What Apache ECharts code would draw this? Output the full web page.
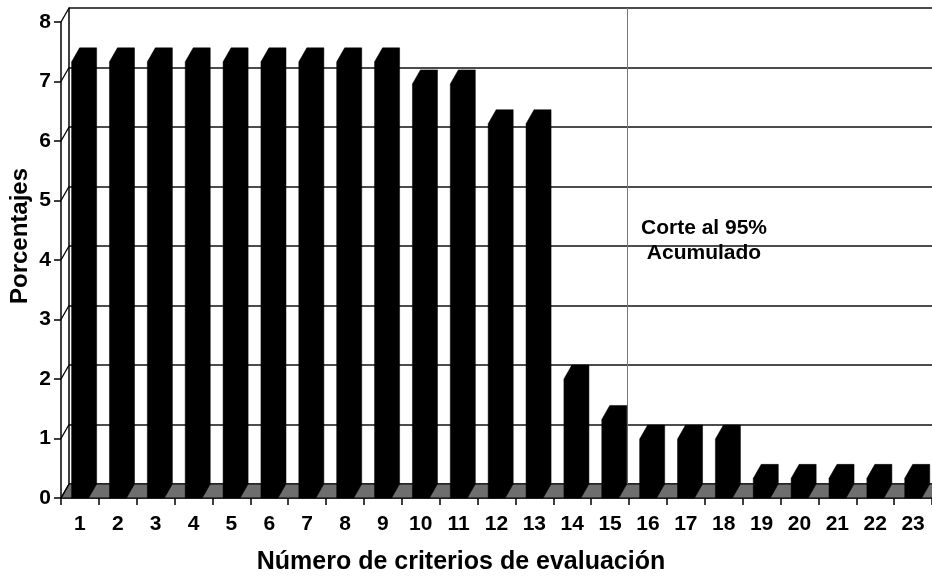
<!DOCTYPE html>
<html>
<head>
<meta charset="utf-8">
<script src="https://cdn.jsdelivr.net/npm/echarts@6/dist/echarts.min.js"></script>
<style>
html,body{margin:0;padding:0;background:#fff;}
#c{width:932px;height:587px;}
</style>
</head>
<body>
<div id="c"></div>
<script>
// ---- data ----
const categories = ['1','2','3','4','5','6','7','8','9','10','11','12','13','14','15','16','17','18','19','20','21','22','23'];
const percentages = [7.33,7.33,7.33,7.33,7.33,7.33,7.33,7.33,7.33,6.96,6.96,6.29,6.29,2.0,1.32,0.99,0.99,0.99,0.33,0.33,0.33,0.33,0.33];
const yTicks = [0,1,2,3,4,5,6,7,8];
const cutPosition = 14.87;           // where the 95% cumulative cut is drawn (category units on the back wall)
const cutLabel = 'Corte al 95%\nAcumulado';
const xTitle = 'Número de criterios de evaluación';
const yTitle = 'Porcentajes';

// ---- style ----
const FONT = "'Liberation Sans', Arial, Helvetica, sans-serif";
const DX = 8, DY = 14;   // pseudo-3D depth offset

const chart = echarts.init(document.getElementById('c'), null, {renderer: 'canvas'});

function bandLeft(api, idx) {
  const bw = api.size([1, 0])[0];
  return api.coord([idx, 0])[0] - bw / 2;
}

const option = {
  animation: false,
  backgroundColor: '#fff',
  grid: [
    {left: 69, top: 8, width: 876, height: 476},   // back wall
    {left: 61, top: 22, width: 876, height: 476}   // front plane
  ],
  xAxis: [
    {gridIndex: 0, type: 'value', min: 0, max: categories.length, show: false},
    {
      gridIndex: 1, type: 'category', data: categories, boundaryGap: true,
      axisLine: {show: true, lineStyle: {color: '#000', width: 1.5}},
      axisTick: {show: true, length: 7, lineStyle: {color: '#000', width: 1.5}},
      axisLabel: {color: '#000', fontFamily: FONT, fontWeight: 'bold', fontSize: 21, margin: 16},
      splitLine: {show: false}
    }
  ],
  yAxis: [
    {
      gridIndex: 0, type: 'value', min: 0, max: 8, interval: 1,
      axisLine: {show: true, lineStyle: {color: '#000', width: 1.5}},
      axisTick: {show: false}, axisLabel: {show: false},
      splitLine: {show: true, lineStyle: {color: '#111', width: 1.5}}
    },
    {
      gridIndex: 1, type: 'value', min: 0, max: 8, interval: 1,
      axisLine: {show: true, lineStyle: {color: '#000', width: 1.5}},
      axisTick: {show: true, length: 7, lineStyle: {color: '#000', width: 1.5}},
      axisLabel: {color: '#000', fontFamily: FONT, fontWeight: 'bold', fontSize: 21, margin: 10},
      splitLine: {show: false}
    }
  ],
  graphic: [
    {
      type: 'text', x: 461, y: 562, z: 10,
      style: {text: xTitle, fill: '#000', font: "bold 25px " + FONT, align: 'center', verticalAlign: 'middle'}
    },
    {
      type: 'text', x: 20, y: 236, rotation: Math.PI / 2, z: 10,
      style: {text: yTitle, fill: '#000', font: "bold 24px " + FONT, align: 'center', verticalAlign: 'middle'}
    },
    {
      type: 'text', x: 704, y: 241, z: 10,
      style: {text: cutLabel, fill: '#000', font: "bold 21px " + FONT, lineHeight: 25, align: 'center', verticalAlign: 'middle'}
    }
  ],
  series: [
    {
      // cut line on the back wall
      type: 'line', xAxisIndex: 0, yAxisIndex: 0, data: [], silent: true,
      markLine: {
        silent: true, symbol: 'none', animation: false,
        label: {show: false},
        lineStyle: {color: '#777', width: 1, type: 'solid'},
        data: [{xAxis: cutPosition}]
      }
    },
    {
      // floor
      type: 'custom', xAxisIndex: 1, yAxisIndex: 1, z: 3, silent: true,
      data: [[0, 0]],
      renderItem: function (params, api) {
        const l = bandLeft(api, 0);
        const r = bandLeft(api, categories.length - 1) + api.size([1, 0])[0];
        const y0 = api.coord([0, 0])[1];
        return {
          type: 'polygon',
          shape: {points: [[l, y0], [r, y0], [r + DX, y0 - DY], [l + DX, y0 - DY]]},
          style: {fill: '#6e6e6e', stroke: '#000', lineWidth: 1.2}
        };
      }
    },
    {
      // left-wall tick connectors
      type: 'custom', xAxisIndex: 1, yAxisIndex: 1, z: 3, silent: true,
      data: yTicks.map(v => [0, v]),
      encode: {x: 0, y: 1},
      renderItem: function (params, api) {
        const l = bandLeft(api, 0);
        const y = api.coord([0, api.value(1)])[1];
        return {
          type: 'line',
          shape: {x1: l, y1: y, x2: l + DX, y2: y - DY},
          style: {stroke: '#000', lineWidth: 1.3}
        };
      }
    },
    {
      // bars
      type: 'custom', xAxisIndex: 1, yAxisIndex: 1, z: 5, silent: true,
      data: percentages.map((v, i) => [i, v]),
      encode: {x: 0, y: 1},
      renderItem: function (params, api) {
        const i = api.value(0);
        const bw = api.size([1, 0])[0];
        const c = api.coord([i, api.value(1)]);
        const b = api.coord([i, 0]);
        const l = c[0] - bw * 0.22;
        const r = l + bw * 0.45;
        const top = c[1], base = b[1];
        return {
          type: 'polygon',
          shape: {points: [[l, base], [l, top], [l + DX, top - DY], [r + DX, top - DY], [r + DX, base - DY], [r, base]]},
          style: {fill: '#000', stroke: '#000', lineWidth: 0.5}
        };
      }
    }
  ]
};
chart.setOption(option);
</script>
</body>
</html>
